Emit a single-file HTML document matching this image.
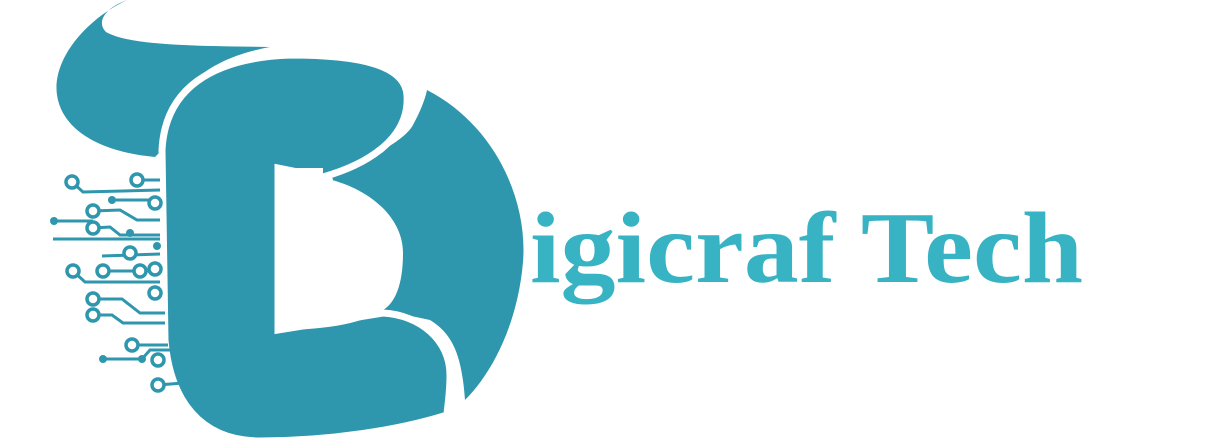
<!DOCTYPE html>
<html><head><meta charset="utf-8"><style>
html,body{margin:0;padding:0;background:#fff;width:1218px;height:441px;overflow:hidden}
</style></head><body>
<svg width="1218" height="441" viewBox="0 0 1218 441" xmlns="http://www.w3.org/2000/svg">
<g fill="#2e96ad">
  <path d="M127,0 C85,20 52,60 57,95 C62,130 100,152 155,157 L162,150 C168,95 200,60 270,47 C200,46 130,46 106,32 C96,22 105,8 127,0 Z"/>
  <path d="M427,90 C495,125 528,200 523,262 C518,320 495,370 465,400 C462,360 455,335 430,320 L383,310 L330,172 C370,160 405,140 413,125 C420,112 425,100 427,90 Z"/>
  <path stroke="#fff" stroke-width="7" d="M162,150 C165,90 210,58 290,55 C360,55 405,65 407,95 C410,140 365,165 323,177 L278,168 L278,330 L383,313 C420,315 450,340 450,375 C450,395 447,410 447,415 C400,430 330,441 260,441 C200,441 170,400 165,340 Z"/>
  <path fill="#fff" d="M278,168 L323,168 L323,178 C365,186 403,215 403,253 C403,285 395,303 383,310 C360,325 320,330 278,330 Z"/>
</g>
<g stroke="#2e96ad" stroke-width="3" fill="none">
  <polyline points="72,182 83,192 160,190"/>
  <polyline points="137,180 160,180"/>
  <polyline points="112,200 160,200"/>
  <polyline points="93,211 120,210 137,220 160,220"/>
  <polyline points="54,221 93,221"/>
  <polyline points="93,228 110,227 120,235 160,235"/>
  <polyline points="53,239 160,239"/>
  <polyline points="102,256 160,254"/>
  <polyline points="73,271 85,282 160,282"/>
  <polyline points="103,271 160,271"/>
  <polyline points="93,299 122,299 140,313 165,313"/>
  <polyline points="93,315 112,315 123,323 165,323"/>
  <polyline points="132,345 168,345"/>
  <polyline points="103,359 142,359 150,350 170,350"/>
  <polyline points="158,385 183,383"/>
</g>
<g fill="#fff" stroke="#2e96ad" stroke-width="3.5">
  <circle cx="72" cy="182" r="6"/><circle cx="137" cy="180" r="6"/><circle cx="155" cy="203" r="6"/>
  <circle cx="93" cy="211" r="6"/><circle cx="93" cy="228" r="6"/><circle cx="130" cy="253" r="6"/>
  <circle cx="73" cy="271" r="6"/><circle cx="103" cy="271" r="6"/><circle cx="140" cy="271" r="6"/>
  <circle cx="155" cy="269" r="6"/><circle cx="155" cy="293" r="6"/><circle cx="93" cy="299" r="6"/>
  <circle cx="93" cy="315" r="6"/><circle cx="132" cy="345" r="6"/><circle cx="158" cy="360" r="6"/>
  <circle cx="158" cy="385" r="6"/>
</g>
<g fill="#2e96ad">
  <circle cx="112" cy="200" r="4"/><circle cx="54" cy="221" r="4"/><circle cx="130" cy="233" r="4"/>
  <circle cx="157" cy="246" r="4"/><circle cx="103" cy="359" r="4"/><circle cx="142" cy="359" r="4"/>
</g>
<text x="530" y="282" textLength="553" lengthAdjust="spacingAndGlyphs" font-family="'Liberation Serif', serif" font-weight="bold" font-size="102" fill="#37b3c3">igicraf Tech</text>
</svg>
</body></html>
